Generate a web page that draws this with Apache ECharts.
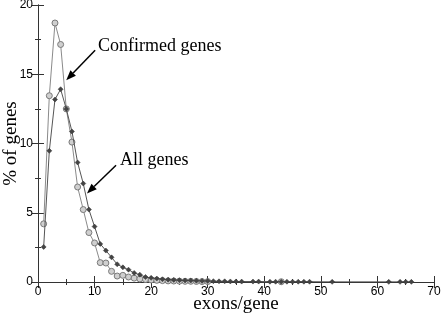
<!DOCTYPE html>
<html><head><meta charset="utf-8">
<script src="https://cdn.jsdelivr.net/npm/echarts@6/dist/echarts.min.js"></script>
<style>html,body{margin:0;padding:0;background:#fff}#c{width:442px;height:315px}</style>
</head><body><div id="c"></div>
<script>
// exons per gene (x) and % of genes (y)
const confirmedX = [1,2,3,4,5,6,7,8,9,10,11,12,13,14,15,16,17,18,19,20,21,22,23,24,25,26,27,28,29,30,43];
const confirmedY = [4.2,13.45,18.7,17.15,12.5,10.1,6.86,5.23,3.57,2.82,1.40,1.37,0.77,0.43,0.48,0.36,0.28,0.22,0.18,0.15,0.12,0.1,0.08,0.07,0.06,0.05,0.05,0.04,0.03,0.03,0.02];
const allX = [1,2,3,4,5,6,7,8,9,10,11,12,13,14,15,16,17,18,19,20,21,22,23,24,25,26,27,28,29,30,31,32,33,34,35,36,38,39,41,42,43,44,45,46,47,48,52,62,64,65,66];
const allY = [2.53,9.47,13.18,13.92,12.5,10.87,8.63,7.11,5.23,4.0,2.75,2.27,1.78,1.28,1.06,0.89,0.65,0.53,0.36,0.3,0.25,0.2,0.17,0.15,0.13,0.11,0.1,0.09,0.08,0.07,0.06,0.05,0.05,0.04,0.04,0.03,0.03,0.03,0.02,0.02,0.02,0.02,0.02,0.02,0.02,0.02,0.01,0.01,0.01,0.01,0.01];
const xTicks = [0,10,20,30,40,50,60,70];
const yTicks = [0,5,10,15,20];
const annotations = [
  {text:'Confirmed genes', at:[10.6,16.95], from:[10.1,16.74], to:[4.99,14.57]},
  {text:'All genes', at:[14.5,8.72], from:[13.8,8.43], to:[8.65,6.39]}
];

const tickFont = {fontFamily:'Liberation Sans, Arial, sans-serif', fontSize:12, color:'#000'};
const axisLine = {show:true, lineStyle:{color:'#333', width:1}};
const xBase = {type:'value', min:0, max:70, interval:10, splitLine:{show:false},
  axisLine:axisLine, axisTick:{inside:true, length:6, lineStyle:{color:'#333'}},
  minorTick:{show:true, splitNumber:2, length:3, lineStyle:{color:'#333'}}};
const yBase = {type:'value', min:0, max:20, interval:5, splitLine:{show:false},
  axisLine:axisLine, axisTick:{inside:true, length:6, lineStyle:{color:'#333'}},
  minorTick:{show:true, splitNumber:2, length:3, lineStyle:{color:'#333'}}};

const chart = echarts.init(document.getElementById('c'));
chart.setOption({
  animation:false,
  backgroundColor:'#fff',
  grid:{left:38, right:8, top:5, bottom:33, containLabel:false, outerBoundsMode:'none'},
  xAxis:[
    Object.assign({}, xBase, {position:'bottom',
      axisLabel:Object.assign({margin:4, formatter:v=>xTicks.includes(v)?String(v):''}, tickFont),
      name:'exons/gene', nameLocation:'middle', nameGap:13, nameMoveOverlap:false,
      nameTextStyle:{fontFamily:'Liberation Serif, Times New Roman, serif', fontSize:19, color:'#000', verticalAlign:'top'}}),
    Object.assign({}, xBase, {position:'top', axisLabel:{show:false}})
  ],
  yAxis:[
    Object.assign({}, yBase, {position:'left',
      axisLabel:Object.assign({margin:5, padding:[2,0,0,0], formatter:v=>yTicks.includes(v)?String(v):''}, tickFont),
      name:'% of genes', nameLocation:'middle', nameGap:17.5, nameRotate:90, nameMoveOverlap:false,
      nameTextStyle:{fontFamily:'Liberation Serif, Times New Roman, serif', fontSize:19, color:'#000'}}),
    Object.assign({}, yBase, {position:'right', axisLabel:{show:false}})
  ],
  series:[
    {name:'All genes', type:'line', xAxisIndex:0, yAxisIndex:0,
     data:allX.map((x,i)=>[x,allY[i]]),
     lineStyle:{color:'#555', width:1}, symbol:'diamond', symbolSize:5,
     itemStyle:{color:'#444', borderColor:'#333', borderWidth:0.5}, z:3},
    {name:'Confirmed genes', type:'line', xAxisIndex:0, yAxisIndex:0,
     data:confirmedX.map((x,i)=>[x,confirmedY[i]]),
     lineStyle:{color:'#8a8a8a', width:1}, symbol:'circle', symbolSize:6,
     itemStyle:{color:'#cfcfcf', borderColor:'#7a7a7a', borderWidth:1}, showAllSymbol:true, z:2}
  ]
});

// annotations: text + arrows positioned through the chart's scales
const g = [];
annotations.forEach(a=>{
  const p = chart.convertToPixel({gridIndex:0}, a.at);
  const f = chart.convertToPixel({gridIndex:0}, a.from);
  const t = chart.convertToPixel({gridIndex:0}, a.to);
  g.push({type:'text', left:p[0], top:p[1]-10, style:{text:a.text, font:'18px "Liberation Serif", "Times New Roman", serif', fill:'#000'}});
  const ang = Math.atan2(t[1]-f[1], t[0]-f[0]);
  const L = 10, W = 3.8;
  const bx = t[0]-L*Math.cos(ang), by = t[1]-L*Math.sin(ang);
  g.push({type:'line', shape:{x1:f[0], y1:f[1], x2:bx, y2:by}, style:{stroke:'#000', lineWidth:1.5}});
  g.push({type:'polygon', shape:{points:[[t[0],t[1]],[bx+W*Math.sin(ang), by-W*Math.cos(ang)],[bx-W*Math.sin(ang), by+W*Math.cos(ang)]]}, style:{fill:'#000'}});
});
chart.setOption({graphic:g});
</script>
</body></html>
